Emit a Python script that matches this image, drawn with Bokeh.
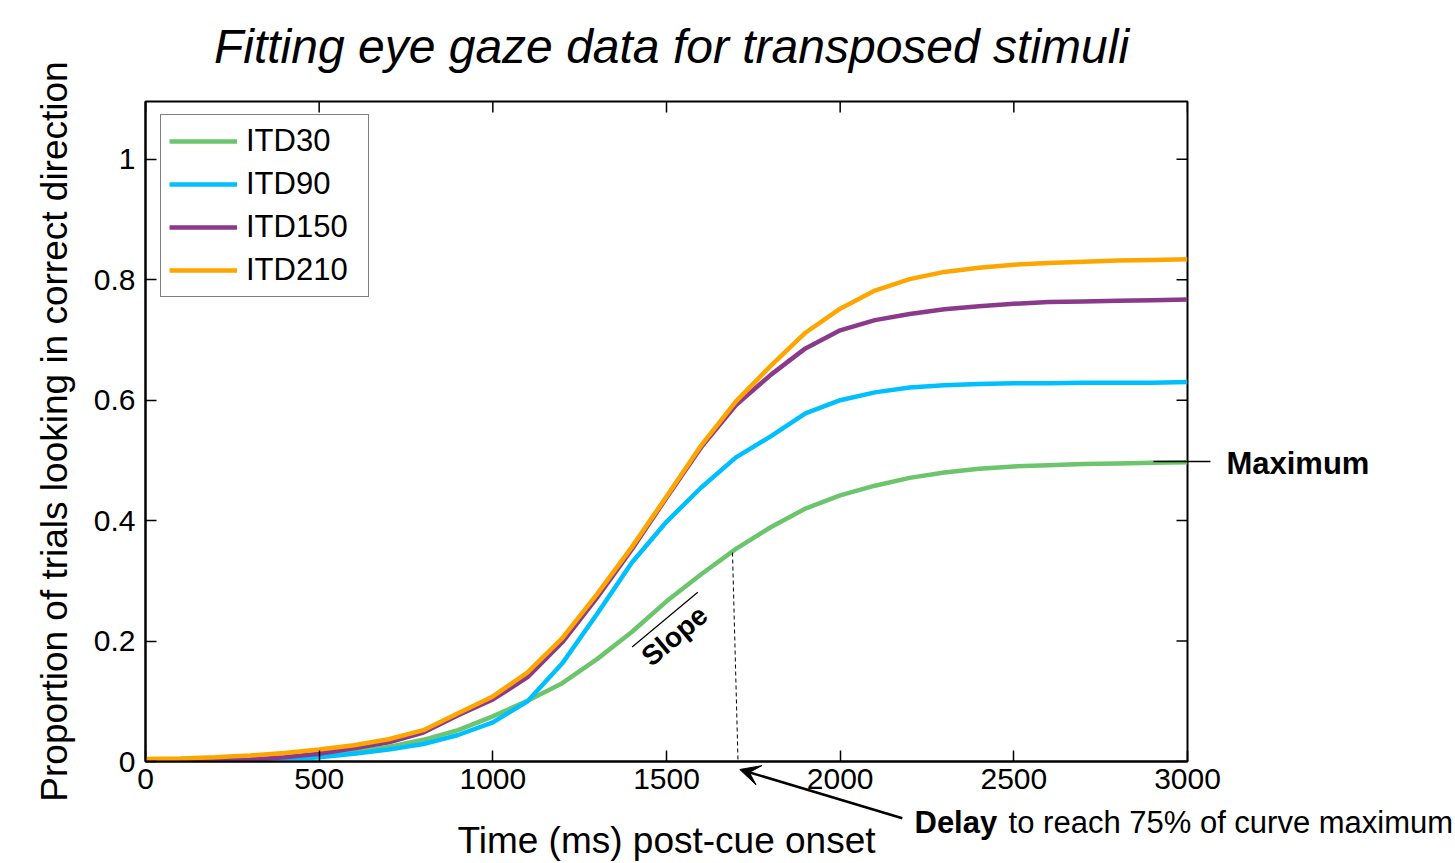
import math
from bokeh.plotting import figure
from bokeh.models import (Legend, LegendItem, Label, Arrow, VeeHead,
                          FixedTicker, Range1d, NumeralTickFormatter)
from bokeh.embed import file_html
from bokeh.resources import INLINE

# ---------------- data ----------------
time_ms = list(range(0, 3001, 100))

itd30 = [0.001, 0.001, 0.002, 0.003, 0.006, 0.010, 0.016, 0.024, 0.036, 0.052,
         0.075, 0.101, 0.130, 0.170, 0.215, 0.266, 0.311, 0.353, 0.389, 0.420,
         0.442, 0.458, 0.471, 0.480, 0.486, 0.490, 0.492, 0.494, 0.495, 0.496, 0.497]

itd90 = [0.000, 0.000, 0.001, 0.002, 0.003, 0.007, 0.013, 0.020, 0.029, 0.044,
         0.065, 0.100, 0.163, 0.245, 0.330, 0.398, 0.455, 0.505, 0.540, 0.578,
         0.600, 0.613, 0.621, 0.625, 0.627, 0.628, 0.628, 0.629, 0.629, 0.629, 0.630]

itd150 = [0.001, 0.001, 0.002, 0.003, 0.007, 0.013, 0.022, 0.032, 0.048, 0.077,
          0.103, 0.140, 0.198, 0.272, 0.352, 0.438, 0.522, 0.592, 0.642, 0.686,
          0.716, 0.733, 0.743, 0.751, 0.756, 0.760, 0.763, 0.764, 0.765, 0.766, 0.767]

itd210 = [0.004, 0.005, 0.007, 0.010, 0.014, 0.020, 0.027, 0.037, 0.052, 0.080,
          0.108, 0.148, 0.205, 0.278, 0.356, 0.440, 0.525, 0.598, 0.657, 0.712,
          0.752, 0.782, 0.801, 0.813, 0.820, 0.825, 0.828, 0.830, 0.832, 0.833, 0.834]

series_names = ["ITD30", "ITD90", "ITD150", "ITD210"]
series_values = [itd30, itd90, itd150, itd210]
series_colors = ["#6CC56C", "#00BFFF", "#8B3A8B", "#FFA500"]

x_ticks = [0, 500, 1000, 1500, 2000, 2500, 3000]
y_ticks = [0, 0.2, 0.4, 0.6, 0.8, 1.0]

title_text = "Fitting eye gaze data for transposed stimuli"

X_MAX = 3000
Y_MAX = 1.096

# annotation anchors (data units)
maximum_level = 0.498
delay_time_top = 1690
delay_value_top = 0.347
delay_time_bottom = 1706
slope_start = (1401, 0.190)
slope_end = (1590, 0.281)

FONT = "Liberation Sans"

# page layout (pixels)
W, H = 1455, 863
B_LEFT, B_RIGHT, B_TOP, B_BOTTOM = 145, 268, 101, 102

p = figure(width=W, height=H, output_backend="svg", toolbar_location=None,
           x_range=Range1d(0, X_MAX), y_range=Range1d(0, Y_MAX),
           min_border_left=B_LEFT, min_border_right=B_RIGHT, min_border_top=B_TOP,
           min_border_bottom=B_BOTTOM, background_fill_color="white",
           border_fill_color="white")

p.grid.visible = False
p.outline_line_color = "black"
p.outline_line_width = 2
p.title.visible = False

for ax in (p.xaxis[0], p.yaxis[0]):
    ax.axis_line_color = "black"
    ax.axis_line_width = 2
    ax.major_tick_in = 11
    ax.major_tick_out = 0
    ax.major_tick_line_color = "black"
    ax.major_tick_line_width = 1.5
    ax.minor_tick_line_color = None
    ax.major_label_text_font = FONT
    ax.major_label_text_font_size = "30px"
    ax.major_label_text_color = "black"
    ax.axis_label_text_font = FONT
    ax.axis_label_text_font_size = "37px"
    ax.axis_label_text_font_style = "normal"
    ax.axis_label_text_color = "black"

p.xaxis[0].ticker = FixedTicker(ticks=x_ticks)
p.yaxis[0].ticker = FixedTicker(ticks=y_ticks)
p.yaxis[0].formatter = NumeralTickFormatter(format="0.[0]")
p.xaxis[0].axis_label = "Time (ms) post-cue onset"
p.yaxis[0].axis_label = "Proportion of trials looking in correct direction"
p.xaxis[0].major_label_standoff = 7
p.xaxis[0].axis_label_standoff = 28
p.yaxis[0].major_label_standoff = 10
p.yaxis[0].axis_label_standoff = 16

# mirrored inward ticks on the top and right edges
p.ray(x=x_ticks, y=[Y_MAX] * len(x_ticks), length=11, length_units="screen",
      angle=-math.pi / 2, line_color="black", line_width=1.5)
p.ray(x=[X_MAX] * len(y_ticks), y=y_ticks, length=11, length_units="screen",
      angle=math.pi, line_color="black", line_width=1.5)

renderers = []
for name, vals, col in zip(series_names, series_values, series_colors):
    r = p.line(time_ms, vals, line_color=col, line_width=4.5)
    renderers.append(r)

legend = Legend(items=[LegendItem(label=n, renderers=[r]) for n, r in zip(series_names, renderers)],
                location=(15, 464), orientation="vertical",
                label_text_font=FONT, label_text_font_size="31px", label_text_color="black",
                glyph_width=68, glyph_height=34, label_height=34, label_width=114, spacing=7,
                padding=8, margin=0, label_standoff=9,
                border_line_color="black", border_line_width=1.5,
                background_fill_color="white", background_fill_alpha=1.0)
p.add_layout(legend)

# annotations inside the plotting frame
p.add_layout(Arrow(end=None, x_start=delay_time_top, y_start=delay_value_top,
                   x_end=delay_time_bottom, y_end=-0.002,
                   line_color="black", line_width=1, line_dash="4 3"))
p.add_layout(Arrow(end=None, x_start=slope_start[0], y_start=slope_start[1],
                   x_end=slope_end[0], y_end=slope_end[1],
                   line_color="black", line_width=1.2))
p.add_layout(Label(x=1523, y=0.209, text="Slope", text_font=FONT, text_font_size="28px",
                   text_font_style="bold", text_color="black", text_align="center",
                   text_baseline="middle", angle=0.70))

# ---------------- transparent overlay (separate root) for title and margin annotations ----------------
frame_w = W - B_LEFT - B_RIGHT
frame_h = H - B_TOP - B_BOTTOM
x_per_px = X_MAX / frame_w
y_per_px = Y_MAX / frame_h

q = figure(width=W, height=H, output_backend="svg", toolbar_location=None,
           x_range=Range1d(-B_LEFT * x_per_px, X_MAX + B_RIGHT * x_per_px),
           y_range=Range1d(-B_BOTTOM * y_per_px, Y_MAX + B_TOP * y_per_px),
           x_axis_type=None, y_axis_type=None, min_border=0,
           background_fill_color=None, border_fill_color=None)
q.outline_line_color = None
q.grid.visible = False
q.title.visible = False
q.margin = (-H, 0, 0, 0)

# chart title, centred over the frame (slightly right, as in the reference)
q.add_layout(Label(x=X_MAX / 2 + 5 * x_per_px, y=Y_MAX + (B_TOP - 46) * y_per_px,
                   text=title_text, text_font=FONT, text_font_size="48px",
                   text_font_style="italic", text_color="black", text_align="center",
                   text_baseline="middle"))

q.add_layout(Arrow(end=None, x_start=2902, y_start=maximum_level, x_end=3066, y_end=maximum_level,
                   line_color="black", line_width=1.5))
q.add_layout(Label(x=3112, y=0.495, text="Maximum", text_font=FONT, text_font_size="31px",
                   text_font_style="bold", text_color="black", text_baseline="middle"))

q.add_layout(Arrow(end=VeeHead(size=20, fill_color="black", line_color="black", line_width=1),
                   x_start=2179, y_start=-0.0942, x_end=1711, y_end=-0.0133,
                   line_color="black", line_width=2.5))
q.add_layout(Label(x=2214, y=-0.1013, text="Delay", text_font=FONT, text_font_size="31px",
                   text_font_style="bold", text_color="black", text_baseline="middle"))
q.add_layout(Label(x=2485, y=-0.1013, text="to reach 75% of curve maximum", text_font=FONT,
                   text_font_size="31px", text_color="black", text_baseline="middle"))

open("out.html", "w").write(file_html([p, q], INLINE))
